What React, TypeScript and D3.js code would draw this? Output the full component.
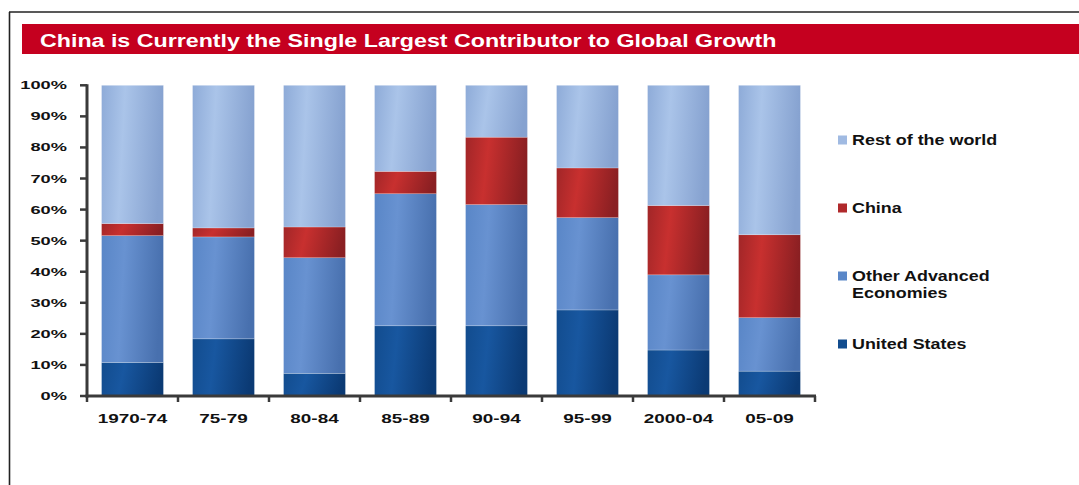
import React from "react";
import * as d3 from "d3";

const categories = ["1970-74", "75-79", "80-84", "85-89", "90-94", "95-99", "2000-04", "05-09"];
const unitedStates = [10.8, 18.4, 7.3, 22.6, 22.6, 27.7, 14.8, 8.0];
const otherAdvanced = [40.8, 32.8, 37.2, 42.5, 39.0, 29.7, 24.2, 17.2];
const china = [3.9, 2.9, 9.9, 7.2, 21.7, 16.0, 22.3, 26.7];
const restOfWorld = [44.5, 45.9, 45.6, 27.7, 16.7, 26.6, 38.7, 48.1];
const yTicks = [0, 10, 20, 30, 40, 50, 60, 70, 80, 90, 100];
const title = "China is Currently the Single Largest Contributor to Global Growth";

const seriesKeys = ["us", "oae", "china", "rest"];
const seriesNames: Record<string, string[]> = {
  rest: ["Rest of the world"],
  china: ["China"],
  oae: ["Other Advanced", "Economies"],
  us: ["United States"],
};
const legendOrder = ["rest", "china", "oae", "us"];
const legendY: Record<string, number> = { rest: 140, china: 208, oae: 276, us: 344 };

const gradStops: Record<string, [string, string, string]> = {
  us: ["#124C8E", "#1857A0", "#0B3A74"],
  oae: ["#5986C7", "#6892D1", "#4870AE"],
  china: ["#A12628", "#C8302F", "#8A1F22"],
  rest: ["#8EABD8", "#AAC4E9", "#86A2D0"],
};
const legendColor: Record<string, string> = {
  us: "#124C8E",
  oae: "#5A87C8",
  china: "#B0292B",
  rest: "#A0BAE2",
};

const W = 1079;
const H = 485;
const x0 = 87;
const x1 = 815;
const yTop = 85.3;
const yBot = 396;
const FONT = "'Liberation Sans', Arial, Helvetica, sans-serif";

export default function App() {
  const rows = categories.map((c, i) => ({
    cat: c,
    us: unitedStates[i],
    oae: otherAdvanced[i],
    china: china[i],
    rest: restOfWorld[i],
  }));
  const stack = d3.stack<any>().keys(seriesKeys)(rows);
  const x = d3.scaleBand<string>().domain(categories).range([x0, x1]).paddingInner(0.32).paddingOuter(0.16);
  const y = d3.scaleLinear().domain([0, 100]).range([yBot, yTop]);
  const step = x.step();
  const bounds = d3.range(categories.length + 1).map((i) => x0 + i * step);

  return (
    <svg width={W} height={H} style={{ position: "fixed", left: 0, top: 0, background: "#fff" }} fontFamily={FONT}>
      <defs>
        {seriesKeys.map((k) => (
          <linearGradient key={k} id={`g-${k}`} x1="0" y1="0" x2="1" y2="0.12">
            <stop offset="0" stopColor={gradStops[k][0]} />
            <stop offset="0.38" stopColor={gradStops[k][1]} />
            <stop offset="1" stopColor={gradStops[k][2]} />
          </linearGradient>
        ))}
      </defs>
      <rect x={0} y={0} width={W} height={H} fill="#fff" />
      {/* frame */}
      <line x1={9} y1={12} x2={W} y2={12} stroke="#222" strokeWidth={1.6} />
      <line x1={9.5} y1={12} x2={9.5} y2={H} stroke="#222" strokeWidth={1.6} />
      {/* title bar */}
      <rect x={22} y={24} width={W - 22} height={30} fill="#C5001F" />
      <text
        transform="translate(40,47) scale(1.29,1)"
        fill="#fff"
        fontWeight="bold"
        fontSize={18}
      >
        {title}
      </text>

      {/* bars */}
      {stack.map((s) => (
        <g key={s.key}>
          {s.map((d, i) => (
            <rect
              key={i}
              x={x(categories[i])}
              width={x.bandwidth()}
              y={y(d[1])}
              height={y(d[0]) - y(d[1])}
              fill={`url(#g-${s.key})`}
              stroke="rgba(255,255,255,0.35)"
              strokeWidth={0.6}
            />
          ))}
        </g>
      ))}

      {/* y axis */}
      <line x1={x0} y1={yTop - 1} x2={x0} y2={yBot + 1.5} stroke="#3a3a3a" strokeWidth={3} />
      {yTicks.map((t) => (
        <g key={t}>
          <line x1={x0 - 7} x2={x0} y1={y(t)} y2={y(t)} stroke="#3a3a3a" strokeWidth={2.5} />
          <text
            transform={`translate(67,${y(t) + 4}) scale(1.66,1)`}
            textAnchor="end"
            fontWeight="bold"
            fontSize={11}
            fill="#111"
          >
            {`${t}%`}
          </text>
        </g>
      ))}

      {/* x axis */}
      <line x1={x0 - 1.5} x2={x1 + 1} y1={yBot} y2={yBot} stroke="#3a3a3a" strokeWidth={3} />
      {bounds.map((b, i) => (
        <line key={i} x1={b} x2={b} y1={yBot} y2={yBot + 6} stroke="#3a3a3a" strokeWidth={2.5} />
      ))}
      {categories.map((c) => (
        <text
          key={c}
          transform={`translate(${(x(c) as number) + x.bandwidth() / 2},423) scale(1.4,1)`}
          textAnchor="middle"
          fontWeight="bold"
          fontSize={13.5}
          fill="#111"
        >
          {c}
        </text>
      ))}

      {/* legend */}
      {legendOrder.map((k) => (
        <g key={k}>
          <rect x={838} y={legendY[k] - 4.5} width={9} height={9} fill={legendColor[k]} />
          {seriesNames[k].map((ln, j) => (
            <text
              key={j}
              transform={`translate(852,${legendY[k] + 5 + j * 17}) scale(1.28,1)`}
              fontWeight="bold"
              fontSize={14}
              fill="#111"
            >
              {ln}
            </text>
          ))}
        </g>
      ))}
    </svg>
  );
}
